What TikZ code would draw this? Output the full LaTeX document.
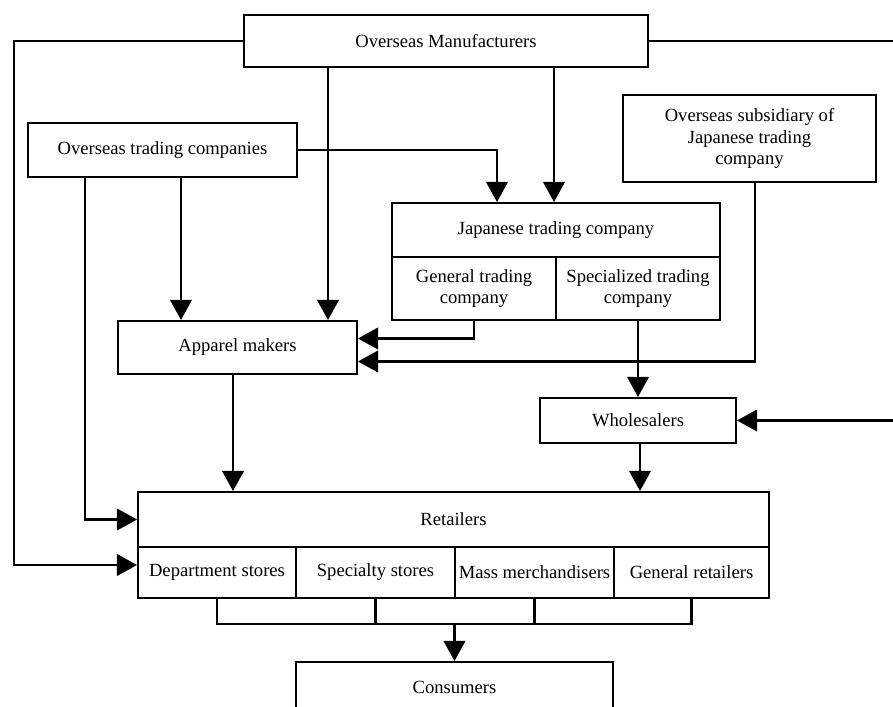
\documentclass[tikz,border=0pt]{standalone}
\usepackage{fontspec}
\setmainfont{Liberation Serif}
\usepackage{tikz}
\usetikzlibrary{arrows.meta,calc}

\begin{document}
\begin{tikzpicture}[x=0.645pt,y=-0.645pt,line width=1.3pt,
                    >={Triangle[length=13pt,width=14pt]},
                    box/.style={draw,line width=1.3pt,inner sep=0pt,align=center,
                                font=\fontsize{12}{14}\selectfont},
                    boxsize/.style 2 args={minimum width=#1*0.645pt,minimum height=#2*0.645pt}]
  \clip (0,0) rectangle (893,707);

  \node[box,boxsize={404}{52}] (mfr) at (446,41) {Overseas Manufacturers};
  \node[box,boxsize={269}{54}] (otc) at (162.5,150) {Overseas trading companies};
  \node[box,boxsize={253}{87}] (sub) at (749.5,138.5)
       {Overseas subsidiary of\\Japanese trading\\company};

  \node[box,boxsize={328}{54}] (jtc) at (556,230) {Japanese trading company};
  \node[box,boxsize={164}{63}] (gen) at (474,288.5) {General trading\\company};
  \node[box,boxsize={164}{63}] (spc) at (638,288.5) {Specialized trading\\company};

  \node[box,boxsize={239}{53}] (app) at (237.5,347.5) {Apparel makers};
  \node[box,boxsize={196}{45}] (whs) at (638,420.5) {Wholesalers};

  \node[box,boxsize={631}{55}] (ret) at (453.5,519.5) {Retailers};
  \node[box,boxsize={158}{51}] (dept) at (217,572.5) {Department stores};
  \node[box,boxsize={159}{51}] (spst) at (375.5,572.5) {Specialty stores};
  \node[box,boxsize={159}{51}] (mass) at (534.5,572.5) {Mass merchandisers};
  \node[box,boxsize={155}{51}] (genr) at (691.5,572.5) {General retailers};

  \node[box,boxsize={317}{50}] (cons) at (454.5,687) {Consumers};

  \coordinate (lx) at (14,0);
  \coordinate (rx) at (900,0);
  \coordinate (bar) at (0,624);

  % from overseas manufacturers
  \draw[->] (mfr.west) -| (lx |- 0,565) -- ($(dept.west)+(0,-7.5)$);
  \draw[->] (mfr.east) -| (rx |- whs.east) -- (whs.east);
  \draw[->] (mfr.south -| 328,0) -- (app.north -| 328,0);
  \draw[->] (mfr.south -| 554,0) -- (jtc.north -| 554,0);

  % from overseas trading companies
  \draw[->] (otc.east) -| (jtc.north -| 497,0);
  \draw[->] (otc.south -| 85,0) |- (ret.west);
  \draw[->] (otc.south -| 181,0) -- (app.north -| 181,0);

  % japanese trading companies
  \draw[->] (gen.south) |- ($(app.east)+(0,-9)$);
  \draw[->] (sub.south -| 755,0) |- ($(app.east)+(0,14)$);
  \draw[->] (spc.south) -- (whs.north);

  % to retailers
  \draw[->] (app.south -| 233,0) -- (ret.north -| 233,0);
  \draw[->] (whs.south -| 640,0) -- (ret.north -| 640,0);

  % to consumers
  \draw (dept.south) -- (dept.south |- bar) -- (genr.south |- bar) -- (genr.south);
  \draw (spst.south) -- (spst.south |- bar);
  \draw (mass.south) -- (mass.south |- bar);
  \draw[->] (cons.north |- bar) -- (cons.north);
\end{tikzpicture}
\end{document}
